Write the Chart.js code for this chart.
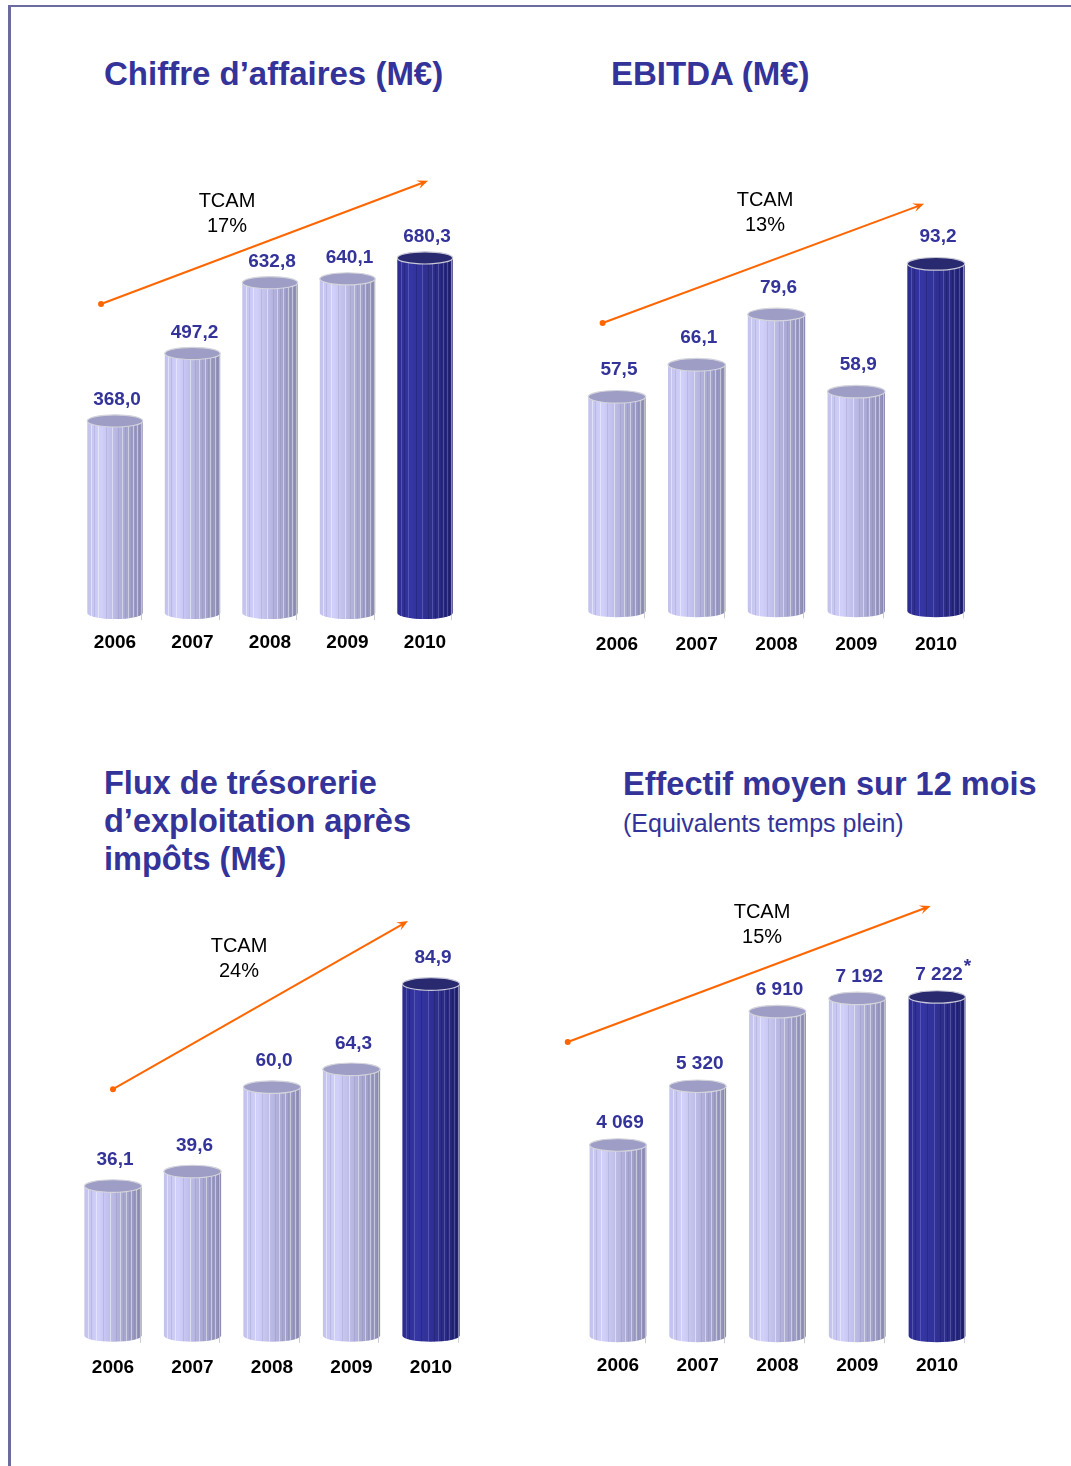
<!DOCTYPE html>
<html lang="fr">
<head>
<meta charset="utf-8">
<title>Chiffres clés 2006-2010</title>
<script src="https://cdn.jsdelivr.net/npm/chart.js@4/dist/chart.umd.min.js"></script>
<style>
  html, body { margin: 0; padding: 0; background: #fff; }
  #page { position: relative; width: 1071px; height: 1466px; overflow: hidden; font-family: "Liberation Sans", Arial, sans-serif; }
  #frame { position: absolute; left: 8px; top: 5px; width: 1100px; height: 1500px; border-top: 2px solid #6b6ba0; border-left: 3px solid #6b6ba0; box-sizing: border-box; }
  canvas { position: absolute; left: 0; top: 0; }
  .title { position: absolute; color: #333399; font-weight: bold; font-size: 33px; line-height: 38px; white-space: nowrap; }
  .title.small { font-size: 32.5px; }
  .subtitle { position: absolute; color: #333399; font-size: 25px; line-height: 30px; white-space: nowrap; }
</style>
</head>
<body>
<div id="page">
  <div id="frame"></div>
  <div class="title" style="left:104px; top:55px;">Chiffre d’affaires (M€)</div>
  <div class="title" style="left:611px; top:55px;">EBITDA (M€)</div>
  <div class="title small" style="left:104px; top:764px;">Flux de trésorerie<br>d’exploitation après<br>impôts (M€)</div>
  <div class="title small" style="left:623px; top:765px;">Effectif moyen sur 12 mois</div>
  <div class="subtitle" style="left:623px; top:808px;">(Equivalents temps plein)</div>
  <canvas id="c1" width="1071" height="1466"></canvas>
  <canvas id="c2" width="1071" height="1466"></canvas>
  <canvas id="c3" width="1071" height="1466"></canvas>
  <canvas id="c4" width="1071" height="1466"></canvas>
</div>
<script>
// Years and yearly figures
const years = ['2006', '2007', '2008', '2009', '2010'];
const chiffreAffaires = [368.0, 497.2, 632.8, 640.1, 680.3];
const ebitda = [57.5, 66.1, 79.6, 58.9, 93.2];
const fluxTresorerie = [36.1, 39.6, 60.0, 64.3, 84.9];
const effectif = [4069, 5320, 6910, 7192, 7222];
const effectifNotes = ['', '', '', '', '*'];
// Compound annual growth rate (TCAM) per panel
const tcam = ['17%', '13%', '24%', '15%'];

const FONT = '"Liberation Sans", Arial, sans-serif';
const VALUE_COLOR = '#333399';

const fmtDecimal = v => v.toFixed(1).replace('.', ',');
const fmtThousands = v => String(v).replace(/\B(?=(\d{3})+(?!\d))/g, ' ');

// Draws one cylinder: body with shaded gradient, thin vertical facets, rounded bottom, elliptical top
function drawCylinder(ctx, x, top, base, w, dark) {
  const l = x - w / 2, r = x + w / 2, rx = w / 2, ry = w * 0.11;
  const g = ctx.createLinearGradient(l, 0, r, 0);
  if (dark) {
    g.addColorStop(0, '#2c2c8e');
    g.addColorStop(0.25, '#3535a4');
    g.addColorStop(0.6, '#2e2e8e');
    g.addColorStop(1, '#222270');
  } else {
    g.addColorStop(0, '#c2c2ec');
    g.addColorStop(0.25, '#d0d0fb');
    g.addColorStop(0.6, '#b0b0da');
    g.addColorStop(1, '#8c8cb4');
  }
  ctx.save();
  ctx.beginPath();
  ctx.moveTo(l, top);
  ctx.lineTo(l, base);
  ctx.ellipse(x, base, rx, ry, 0, Math.PI, 0, true);
  ctx.lineTo(r, top);
  ctx.closePath();
  ctx.fillStyle = g;
  ctx.fill();
  // facets
  ctx.save();
  ctx.clip();
  const facets = [0.06, 0.12, 0.2, 0.33, 0.45, 0.55, 0.62, 0.68, 0.73, 0.78, 0.82, 0.86, 0.9, 0.94, 0.97];
  facets.forEach((f, i) => {
    const fx = Math.round(l + f * w) + 0.5;
    ctx.beginPath();
    ctx.moveTo(fx, top);
    ctx.lineTo(fx, base + ry + 1);
    ctx.strokeStyle = i % 2 === 0
      ? (dark ? 'rgba(150,150,230,0.35)' : 'rgba(255,255,255,0.45)')
      : (dark ? 'rgba(10,10,60,0.25)' : 'rgba(110,110,150,0.18)');
    ctx.lineWidth = 1;
    ctx.stroke();
  });
  ctx.restore();
  ctx.strokeStyle = dark ? 'rgba(180,180,200,0.6)' : 'rgba(190,190,200,0.8)';
  ctx.lineWidth = 1;
  ctx.stroke();
  // top
  ctx.beginPath();
  ctx.ellipse(x, top, rx, ry, 0, 0, Math.PI * 2);
  ctx.fillStyle = dark ? '#29296f' : '#9d9dc5';
  ctx.fill();
  ctx.strokeStyle = dark ? '#c8c8d8' : '#d4d4dc';
  ctx.lineWidth = 1.2;
  ctx.stroke();
  ctx.restore();
}

// Orange trend arrow with a dot at its origin
function drawArrow(ctx, x0, y0, x1, y1) {
  const a = Math.atan2(y1 - y0, x1 - x0);
  const len = 11, half = 4.5;
  ctx.save();
  ctx.strokeStyle = '#ff6600';
  ctx.fillStyle = '#ff6600';
  ctx.lineWidth = 2;
  ctx.beginPath();
  ctx.moveTo(x0, y0);
  ctx.lineTo(x1 - Math.cos(a) * 5, y1 - Math.sin(a) * 5);
  ctx.stroke();
  ctx.beginPath();
  ctx.arc(x0, y0, 3, 0, Math.PI * 2);
  ctx.fill();
  ctx.translate(x1, y1);
  ctx.rotate(a);
  ctx.beginPath();
  ctx.moveTo(0, 0);
  ctx.lineTo(-len, -half);
  ctx.lineTo(-len * 0.6, 0);
  ctx.lineTo(-len, half);
  ctx.closePath();
  ctx.fill();
  ctx.restore();
}

const cylinderPlugin = {
  id: 'cylinders',
  afterDatasetsDraw(chart, args, opts) {
    const ctx = chart.ctx;
    const xs = chart.scales.x, ys = chart.scales.y;
    const meta = chart.getDatasetMeta(0);
    const values = chart.data.datasets[0].data;
    // trend arrow and TCAM caption, placed in data space
    drawArrow(ctx,
      xs.getPixelForValue(opts.arrow[0]), ys.getPixelForValue(opts.arrow[1]),
      xs.getPixelForValue(opts.arrow[2]), ys.getPixelForValue(opts.arrow[3]));
    const tx = xs.getPixelForValue(opts.captionAt[0]);
    const ty = ys.getPixelForValue(opts.captionAt[1]);
    ctx.save();
    ctx.fillStyle = '#000';
    ctx.font = '20px ' + FONT;
    ctx.textAlign = 'center';
    ctx.textBaseline = 'middle';
    ctx.fillText('TCAM', tx, ty + 1);
    ctx.fillText(opts.rate, tx, ty + 26);
    ctx.restore();

    meta.data.forEach((bar, i) => {
      const dark = i === opts.highlight;
      drawCylinder(ctx, bar.x, bar.y, bar.base, bar.width, dark);
      // value above
      ctx.save();
      ctx.font = 'bold 19px ' + FONT;
      ctx.fillStyle = VALUE_COLOR;
      ctx.textAlign = 'center';
      ctx.textBaseline = 'middle';
      const txt = opts.format(values[i]);
      const ly = bar.y - opts.labelGap;
      const lx = bar.x + 2;
      ctx.fillText(txt, lx, ly);
      const note = opts.notes ? opts.notes[i] : '';
      if (note) {
        const tw = ctx.measureText(txt).width;
        ctx.textAlign = 'left';
        ctx.fillText(note, lx + tw / 2 + 1, ly - 8);
      }
      // year below
      ctx.font = 'bold 19px ' + FONT;
      ctx.fillStyle = '#000';
      ctx.textAlign = 'center';
      ctx.fillText(chart.data.labels[i], bar.x, bar.base + opts.yearGap);
      ctx.restore();
    });
  }
};

const W = 1071, H = 1466;

function makePanel(id, values, area, max, barPct, panelOpts) {
  return new Chart(document.getElementById(id), {
    type: 'bar',
    data: {
      labels: years,
      datasets: [{
        data: values,
        backgroundColor: 'rgba(0,0,0,0)',
        borderWidth: 0,
        categoryPercentage: 1,
        barPercentage: barPct
      }]
    },
    options: {
      responsive: false,
      animation: false,
      devicePixelRatio: 1,
      events: [],
      layout: {
        padding: { left: area.left, right: W - area.right, top: area.top, bottom: H - area.bottom }
      },
      plugins: {
        legend: { display: false },
        tooltip: { enabled: false },
        title: { display: false },
        cylinders: panelOpts
      },
      scales: {
        x: { display: false },
        y: { display: false, min: 0, max: max }
      }
    },
    plugins: [cylinderPlugin]
  });
}

makePanel('c1', chiffreAffaires, { left: 76.25, right: 463.75, top: 195.4, bottom: 613 }, 800, 0.715, {
  highlight: 4, labelGap: 21, yearGap: 30, format: fmtDecimal, rate: tcam[0],
  arrow: [-0.18, 592, 4.04, 828], captionAt: [1.445, 791]
});
makePanel('c2', ebitda, { left: 577.1, right: 975.9, top: 201.25, bottom: 611 }, 110, 0.72, {
  highlight: 4, labelGap: 27, yearGap: 34, format: fmtDecimal, rate: tcam[1],
  arrow: [-0.18, 77.3, 3.85, 109.3], captionAt: [1.856, 110.6]
});
makePanel('c3', fluxTresorerie, { left: 73.25, right: 470.75, top: 921.5, bottom: 1335.5 }, 100, 0.72, {
  highlight: 4, labelGap: 26, yearGap: 32, format: fmtDecimal, rate: tcam[2],
  arrow: [0, 59.5, 3.71, 100.1], captionAt: [1.585, 94.3]
});
makePanel('c4', effectif, { left: 578.1, right: 976.9, top: 922.9, bottom: 1336 }, 8800, 0.712, {
  highlight: 4, labelGap: 22, yearGap: 30, format: fmtThousands, rate: tcam[3], notes: effectifNotes,
  arrow: [-0.63, 6263, 3.92, 9161], captionAt: [1.806, 9033]
});
</script>
</body>
</html>
